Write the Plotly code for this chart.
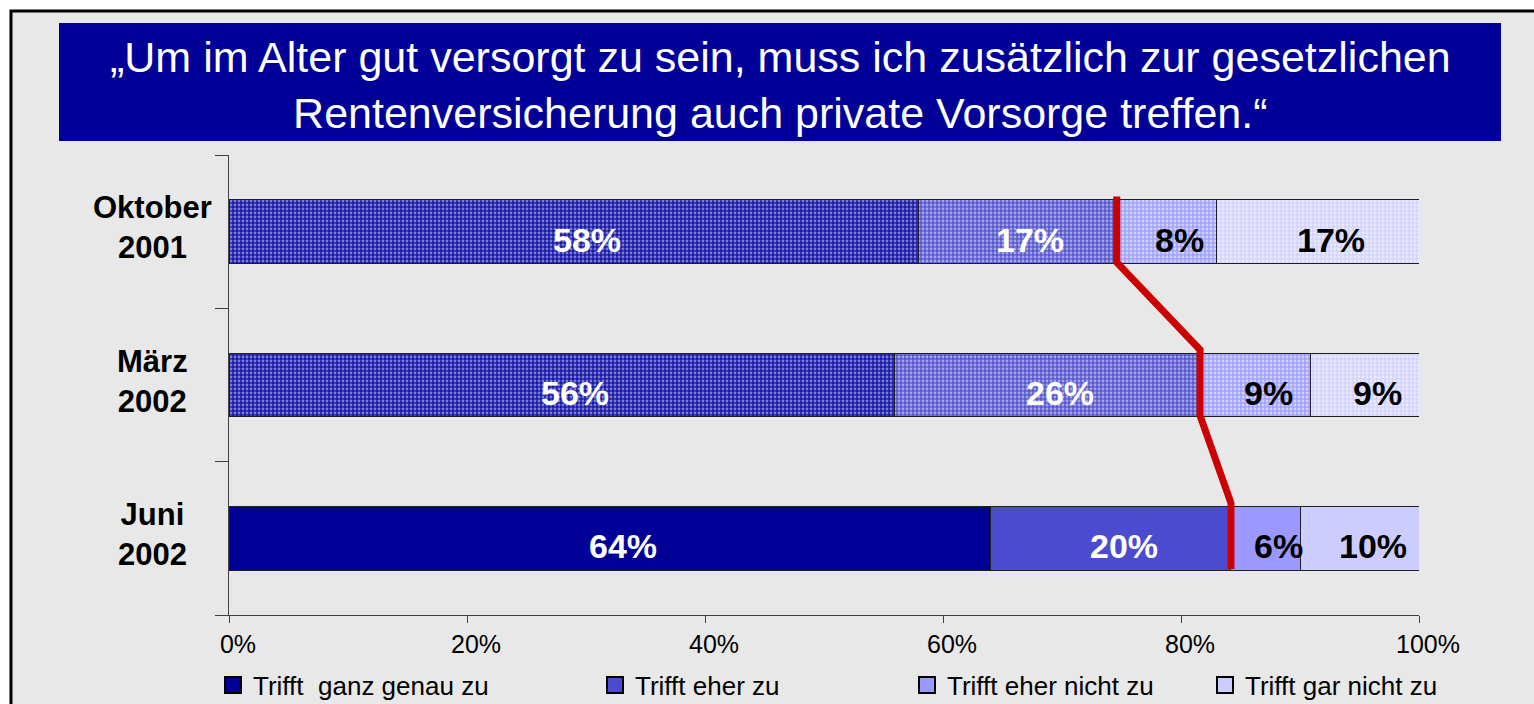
import plotly.graph_objects as go

# ---- data ----
categories = ["Juni<br>2002", "März<br>2002", "Oktober<br>2001"]
series_names = ["Trifft  ganz genau zu", "Trifft eher zu", "Trifft eher nicht zu", "Trifft gar nicht zu"]
values = {
    "Trifft  ganz genau zu": [64.0, 55.9, 57.9],
    "Trifft eher zu": [20.2, 25.7, 16.7],
    "Trifft eher nicht zu": [5.8, 9.3, 8.4],
    "Trifft gar nicht zu": [10.0, 9.1, 17.0],
}
labels = {
    "Trifft  ganz genau zu": ["64%", "56%", "58%"],
    "Trifft eher zu": ["20%", "26%", "17%"],
    "Trifft eher nicht zu": ["6%", "9%", "8%"],
    "Trifft gar nicht zu": ["10%", "9%", "17%"],
}
title_text = "„Um im Alter gut versorgt zu sein, muss ich zusätzlich zur gesetzlichen<br>Rentenversicherung auch private Vorsorge treffen.“"
x_tick_vals = [0, 20, 40, 60, 80, 100]
x_tick_text = ["0%", "20%", "40%", "60%", "80%", "100%"]

# ---- style ----
solid_colors = ["#000099", "#4B4BCF", "#9999FF", "#CCCCFF"]
pattern_bg = ["#1A1AAA", "#5858D2", "#A2A2FF", "#D4D4FF"]
pattern_fg = ["#E0E0FF", "#F2F2FF", "#FFFFFF", "#FFFFFF"]
text_colors = ["white", "white", "black", "black"]
legend_x_px = [213, 595, 907, 1205]

W, H = 1534, 704
L, T = 229, 155
R = W - 1419
B = H - 615
pw, ph = W - L - R, H - T - B


def px_x(p):
    return (p - L) / pw


def px_y(p):
    return (H - B - p) / ph


ypos = list(range(len(categories)))
fig = go.Figure()
sans = "Liberation Sans, Arial, sans-serif"

annotations = []
cum = [0.0] * len(categories)
for i, name in enumerate(series_names):
    fig.add_trace(go.Bar(
        y=ypos, x=values[name], orientation="h", name=name,
        width=0.415, showlegend=False,
        marker=dict(
            color=solid_colors[i],
            line=dict(color="#202020", width=1),
            pattern=dict(
                shape=["", ".", "."],
                bgcolor=[solid_colors[i], pattern_bg[i], pattern_bg[i]],
                fgcolor=pattern_fg[i],
                size=4, solidity=0.4,
            ),
        ),
        hoverinfo="skip",
    ))
    # value labels placed at the middle of each segment
    for k in range(len(categories)):
        annotations.append(dict(
            text=labels[name][k], x=cum[k] + values[name][k] / 2, y=ypos[k],
            xref="x", yref="y", showarrow=False, xanchor="center", yanchor="middle",
            xshift=13, yshift=-8,
            font=dict(family=sans, size=34, color=text_colors[i], weight="bold"),
        ))
        cum[k] += values[name][k]
    # legend entry (square swatch)
    fig.add_trace(go.Scatter(
        x=[None], y=[None], mode="markers", name=name,
        marker=dict(symbol="square", size=16, color=solid_colors[i],
                    line=dict(color="black", width=2)),
        legend="legend" if i == 0 else f"legend{i+1}", hoverinfo="skip",
    ))

# red connecting line through the boundary between "eher zu" and "eher nicht zu"
cum2 = [values[series_names[0]][k] + values[series_names[1]][k] for k in range(len(categories))]
lx, ly = [], []
for k in reversed(range(len(categories))):
    lx += [cum2[k], cum2[k]]
    ly += [ypos[k] + 0.23, ypos[k] - 0.2]
fig.add_trace(go.Scatter(x=lx, y=ly, mode="lines", line=dict(color="#CC0000", width=7),
                         showlegend=False, hoverinfo="skip", cliponaxis=False))

layout_legends = {}
for i in range(4):
    key = "legend" if i == 0 else f"legend{i+1}"
    layout_legends[key] = dict(
        x=px_x(legend_x_px[i]), xanchor="left", y=px_y(685), yanchor="middle",
        bgcolor="rgba(0,0,0,0)", font=dict(family=sans, size=26, color="black"),
        itemwidth=30, tracegroupgap=0, itemsizing="trace",
    )

annotations.append(dict(text=title_text, xref="paper", yref="paper", x=px_x(780), y=px_y(85),
                        xanchor="center", yanchor="middle", showarrow=False, align="center",
                        font=dict(family=sans, size=43, color="white")))
for k, c in enumerate(categories):
    annotations.append(dict(text=c, xref="paper", yref="y", x=px_x(152), y=ypos[k],
                            xanchor="center", yanchor="middle", showarrow=False, align="center",
                            yshift=4,
                            font=dict(family=sans, size=31, color="black", weight="bold")))

shapes = [
    dict(type="rect", xref="paper", yref="paper", x0=px_x(11), x1=px_x(1580),
         y0=px_y(740), y1=px_y(11), line=dict(color="black", width=3),
         fillcolor="#E8E8E8", layer="below"),
    dict(type="rect", xref="paper", yref="paper", x0=px_x(59), x1=px_x(1501),
         y0=px_y(141), y1=px_y(23), line=dict(width=0), fillcolor="#000099", layer="below"),
]

fig.update_layout(
    width=W, height=H, margin=dict(l=L, r=R, t=T, b=B, autoexpand=False),
    barmode="stack", bargap=0.55,
    paper_bgcolor="white", plot_bgcolor="rgba(0,0,0,0)",
    showlegend=True,
    annotations=annotations, shapes=shapes,
    xaxis=dict(range=[0, 100], tickvals=x_tick_vals, ticktext=x_tick_text, showgrid=False,
               zeroline=False, showline=True, linecolor="#404040", linewidth=1, ticks="outside",
               ticklen=7, tickcolor="#404040", ticklabelshift=9,
               tickfont=dict(family=sans, size=25, color="black")),
    yaxis=dict(range=[-0.5, 2.5], tickvals=[-0.5, 0.5, 1.5, 2.5], showticklabels=False,
               showgrid=False, zeroline=False, showline=True, linecolor="#404040", linewidth=1,
               ticks="outside", ticklen=13, tickcolor="#404040"),
    **layout_legends,
)

fig.write_html("out.html", config={"displayModeBar": False},
               post_script="document.body.style.margin='0';document.body.style.overflow='hidden';")
